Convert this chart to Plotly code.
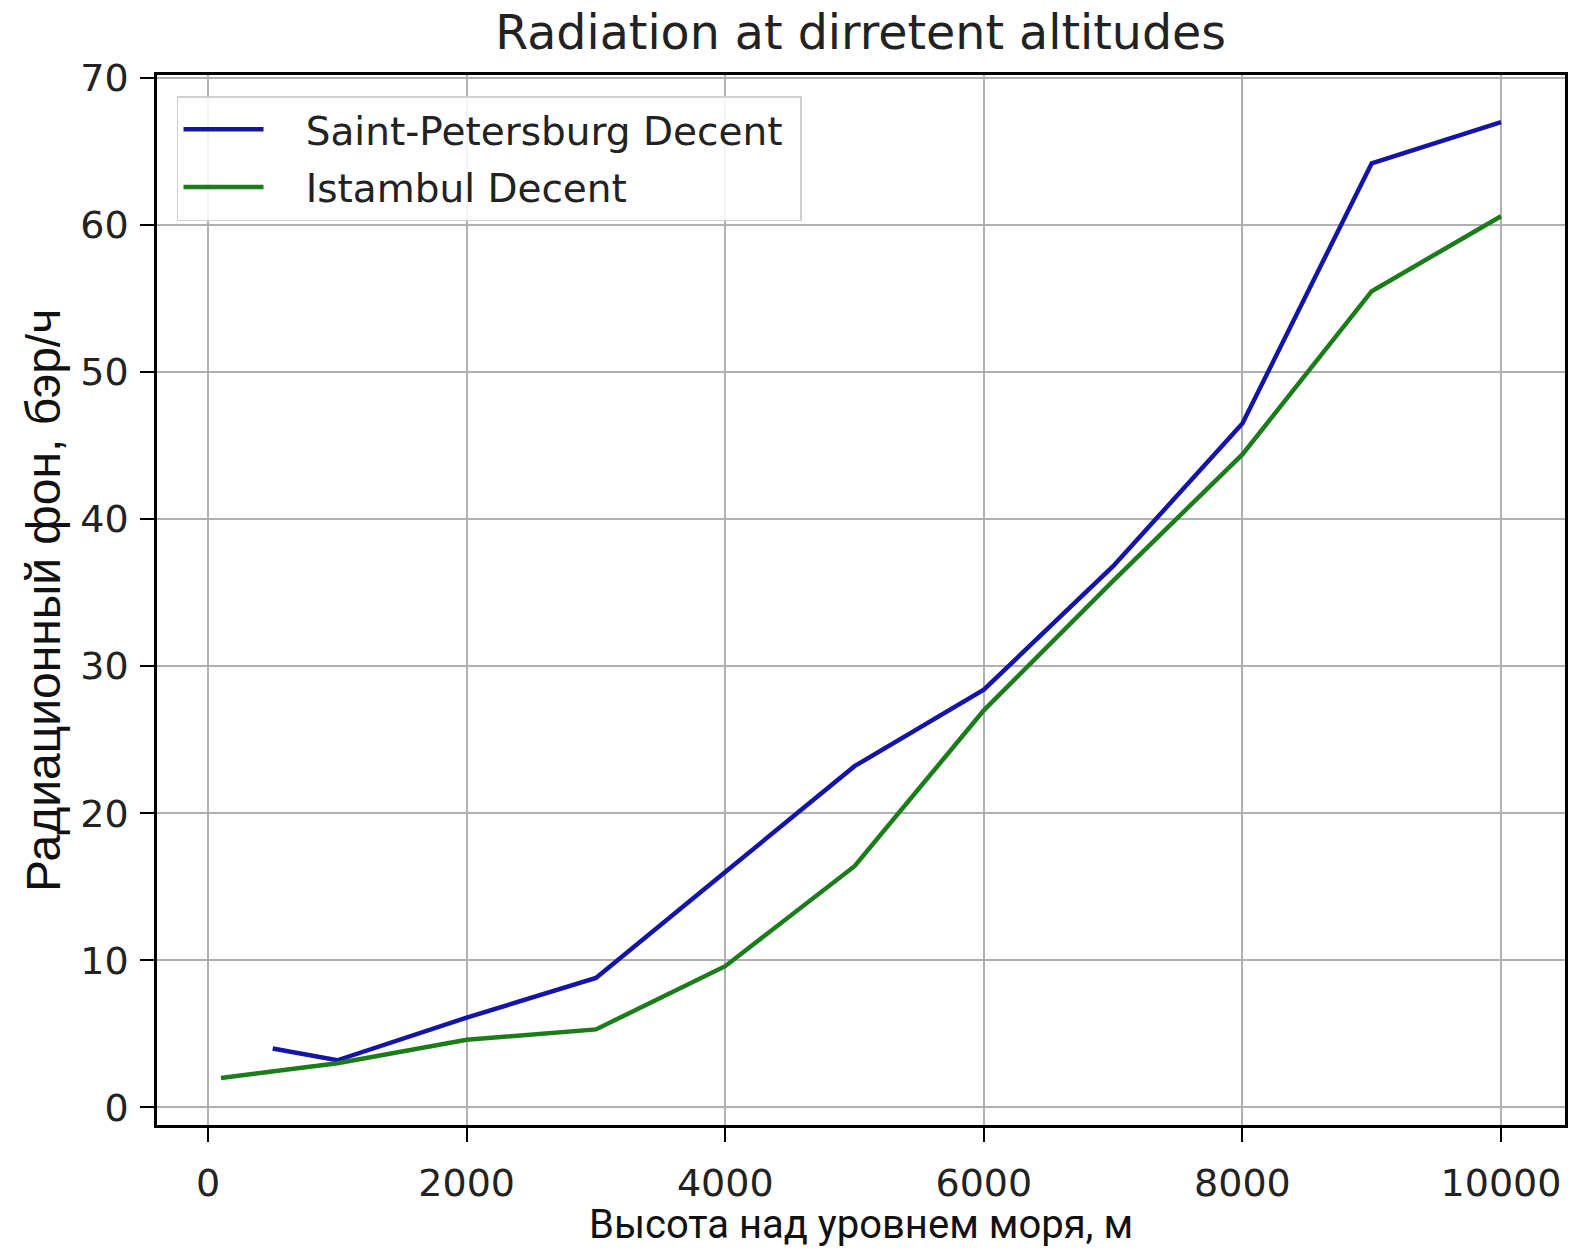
import plotly.graph_objects as go

# Altitude (m) and measured radiation background (бэр/ч) for each descent
spb_alt = [500, 1000, 2000, 3000, 4000, 5000, 6000, 7000, 8000, 9000, 10000]
spb_rad = [4.0, 3.2, 6.1, 8.8, 16.0, 23.2, 28.4, 36.8, 46.5, 64.2, 67.0]

ist_alt = [100, 1000, 2000, 3000, 4000, 5000, 6000, 7000, 8000, 9000, 10000]
ist_rad = [2.0, 3.0, 4.6, 5.3, 9.6, 16.4, 27.0, 35.8, 44.4, 55.5, 60.6]

x_ticks = [0, 2000, 4000, 6000, 8000, 10000]
x_tick_text = ["0", "2000", "4000", "6000", "8000", "10000"]
y_ticks = [0, 10, 20, 30, 40, 50, 60, 70]

x_title = "Высота над уровнем моря, м"
y_title = "Радиационный фон, бэр/ч"

FONT = "DejaVu Sans"
PAD = "\u00a0\u00a0\u00a0"

fig = go.Figure()
fig.add_trace(go.Scatter(x=spb_alt, y=spb_rad, mode="lines",
                         name=PAD + "Saint-Petersburg Decent" + "\u00a0", legendgroup="spb",
                         line=dict(color="#1414a8", width=4.5)))
fig.add_trace(go.Scatter(x=ist_alt, y=ist_rad, mode="lines",
                         name=PAD + "Istambul Decent", legendgroup="ist",
                         line=dict(color="#1a7d1a", width=4.5)))

axis_common = dict(
    showline=True, linecolor="black", linewidth=2.5, mirror=True,
    ticks="outside", ticklen=14, tickwidth=2, tickcolor="black",
    showgrid=True, gridcolor="#b0b0b0", gridwidth=2,
    zeroline=False, automargin=False,
    tickfont=dict(family=FONT, size=38, color="#222"),
)

fig.update_layout(
    width=1572, height=1250,
    margin=dict(l=157, r=7, t=75, b=125),
    paper_bgcolor="white", plot_bgcolor="white",
    title=dict(text="Radiation at dirretent altitudes", x=0.5475, xanchor="center",
               y=0.974, yanchor="middle",
               font=dict(family=FONT, size=47.5, color="#222")),
    xaxis=dict(range=[-395, 10495], tickvals=x_ticks, ticktext=x_tick_text,
               ticklabelstandoff=9, **axis_common),
    yaxis=dict(range=[-1.2, 70.2], tickvals=y_ticks, ticklabelstandoff=4,
               **axis_common),
    legend=dict(x=0.0142, y=0.98, xanchor="left", yanchor="top",
                bgcolor="rgba(255,255,255,0.85)", bordercolor="#d0d0d0", borderwidth=1.5,
                font=dict(family=FONT, size=39, color="#222"),
                itemwidth=80, tracegroupgap=4),
    showlegend=True,
)

# Axis titles placed in paper coordinates below / left of the plot area
fig.add_annotation(text=x_title, xref="paper", yref="paper",
                   x=0.5, y=-0.1185, xanchor="center", yanchor="bottom",
                   showarrow=False, borderpad=0,
                   font=dict(family="Roboto", size=40, color="#111"))
fig.add_annotation(text=y_title, xref="paper", yref="paper",
                   x=-0.081, y=0.5, xanchor="center", yanchor="middle",
                   textangle=-90, showarrow=False,
                   font=dict(family="Liberation Sans", size=48, color="#111"))

fig.write_html("out.html")
